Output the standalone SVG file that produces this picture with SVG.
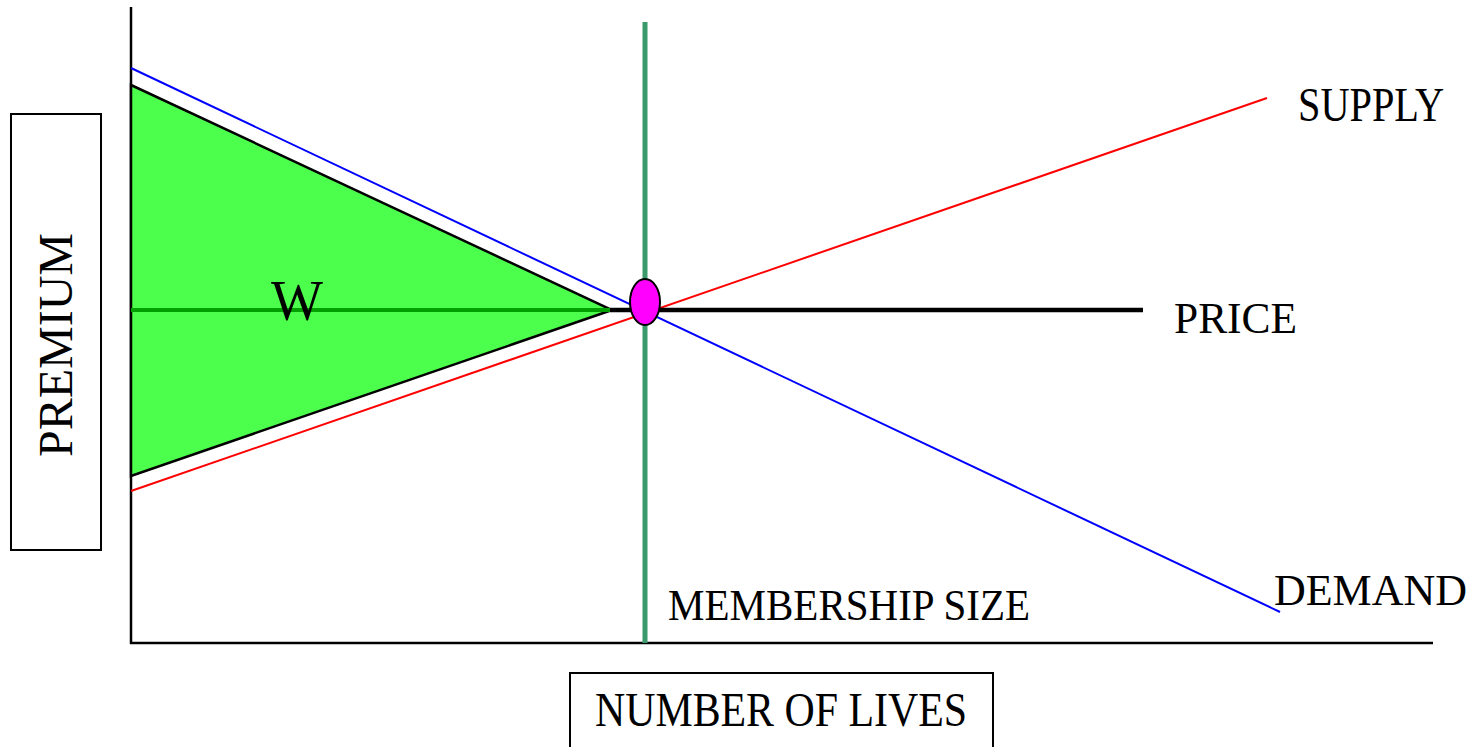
<svg xmlns="http://www.w3.org/2000/svg" width="1471" height="747" viewBox="0 0 1471 747">
<style>
.lbl{font-family:"Liberation Serif","Times New Roman",serif;font-size:48px;fill:#000}
.box{fill:#fff;stroke:#000;stroke-width:2}
</style>
<rect width="1471" height="747" fill="#fff"/>
<g id="axes" stroke="#000" stroke-width="2.5" fill="none">
<line x1="131" y1="7" x2="131" y2="644"/>
<line x1="130" y1="643" x2="1433" y2="643"/>
</g>
<g id="welfare">
<polygon points="131,85 612,310 131,476" fill="#4dff4d" stroke="#000" stroke-width="2.5"/>
<line x1="131" y1="310" x2="612" y2="310" stroke="#00a000" stroke-width="4"/>
<text class="lbl" x="297" y="320" text-anchor="middle" style="font-size:56px" textLength="52" lengthAdjust="spacingAndGlyphs">W</text>
</g>
<g id="connectors" fill="none">
<line x1="131" y1="68" x2="1280" y2="612" stroke="#0000ff" stroke-width="2"/>
<line x1="131" y1="491" x2="1267" y2="98" stroke="#ff0000" stroke-width="2"/>
<line x1="610" y1="310" x2="1143" y2="310" stroke="#000" stroke-width="4.5"/>
<line x1="645" y1="22" x2="645" y2="643" stroke="#3a9a6c" stroke-width="5"/>
</g>
<g id="equilibrium">
<ellipse cx="645" cy="302" rx="15" ry="23" fill="#ff00ff" stroke="#000" stroke-width="2"/>
</g>
<g id="premium">
<rect class="box" x="11" y="114" width="90" height="436"/>
<text class="lbl" transform="translate(72,345) rotate(-90)" text-anchor="middle" textLength="224" lengthAdjust="spacingAndGlyphs">PREMIUM</text>
</g>
<g id="lives">
<rect class="box" x="570" y="673" width="423" height="80"/>
<text class="lbl" x="781" y="726" text-anchor="middle" textLength="372" lengthAdjust="spacingAndGlyphs">NUMBER OF LIVES</text>
</g>
<g id="supply-label"><text class="lbl" x="1298" y="121" textLength="146" lengthAdjust="spacingAndGlyphs">SUPPLY</text></g>
<g id="price-label"><text class="lbl" x="1174" y="333" style="font-size:45px" textLength="123" lengthAdjust="spacingAndGlyphs">PRICE</text></g>
<g id="demand-label"><text class="lbl" x="1274" y="605" style="font-size:45px" textLength="193" lengthAdjust="spacingAndGlyphs">DEMAND</text></g>
<g id="membership-label"><text class="lbl" x="668" y="620" style="font-size:45px" textLength="362" lengthAdjust="spacingAndGlyphs">MEMBERSHIP SIZE</text></g>
</svg>
